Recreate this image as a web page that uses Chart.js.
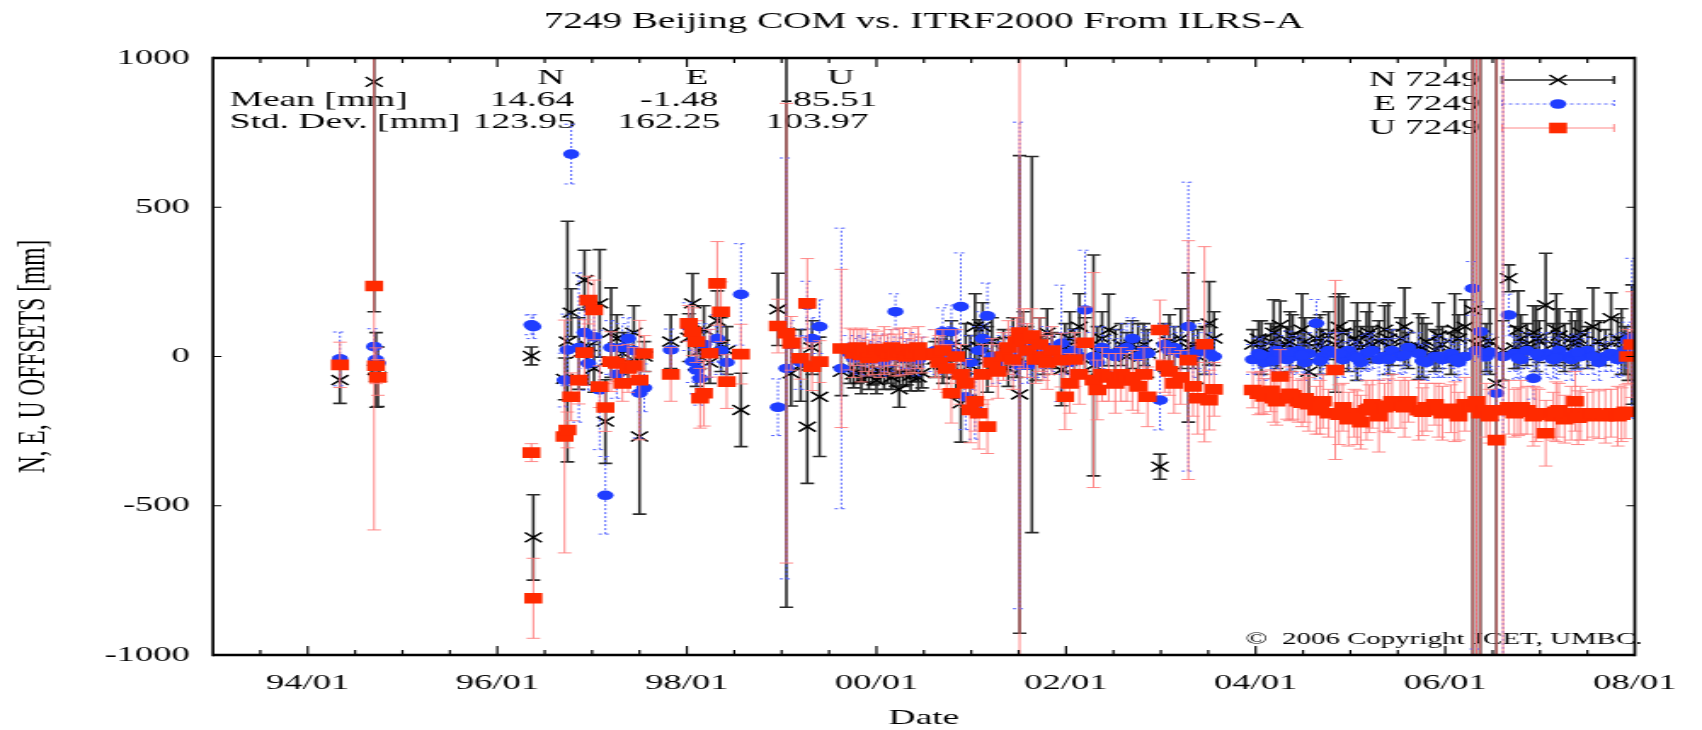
<!DOCTYPE html>
<html>
<head>
<meta charset="utf-8">
<title>7249 Beijing COM vs. ITRF2000</title>
<script src="https://cdn.jsdelivr.net/npm/chart.js@4.4.1/dist/chart.umd.min.js"></script>
<style>
  html, body { margin: 0; padding: 0; background: #fff; overflow: hidden; }
  /* the original plot is a stretched gnuplot image, so draw narrow and stretch */
  #wrap { width: 1000px; height: 730px; transform: scaleX(1.702); transform-origin: 0 0; }
</style>
</head>
<body>
<div id="wrap"><canvas id="offsetChart" width="1000" height="730"></canvas></div>
<script>
// ---- data (decimal years, offsets in mm) ----
const dates = [
  1994.34, 1994.70, 1994.72, 1994.74, 1996.36, 1996.38,
  1996.71, 1996.74, 1996.78, 1996.86, 1996.92, 1996.96, 1997.02, 1997.08, 1997.14, 1997.20,
  1997.26, 1997.32, 1997.38, 1997.44, 1997.50, 1997.55,
  1997.83, 1998.02, 1998.06, 1998.10, 1998.14, 1998.18, 1998.24, 1998.32, 1998.36, 1998.42, 1998.57,
  1998.96, 1999.05, 1999.10, 1999.20, 1999.27, 1999.32, 1999.40, 1999.63,
  1999.72, 1999.76, 1999.80, 1999.84, 1999.88, 1999.92, 1999.96, 2000.00, 2000.04, 2000.08,
  2000.12, 2000.16, 2000.20, 2000.24, 2000.28, 2000.32, 2000.36, 2000.40, 2000.44, 2000.48,
  2000.62, 2000.66, 2000.70, 2000.74, 2000.79, 2000.84, 2000.89, 2000.94, 2000.99,
  2001.04, 2001.08, 2001.12, 2001.17, 2001.22, 2001.28, 2001.34, 2001.39, 2001.44, 2001.48,
  2001.51, 2001.55, 2001.59, 2001.64, 2001.68, 2001.72, 2001.76, 2001.80, 2001.85,
  2001.95, 2001.99, 2002.04, 2002.09, 2002.14, 2002.20, 2002.29, 2002.33, 2002.38, 2002.45,
  2002.52, 2002.58, 2002.64, 2002.70, 2002.76, 2002.82, 2002.86, 2002.99, 2003.04, 2003.09,
  2003.14, 2003.21, 2003.29, 2003.34, 2003.39, 2003.46, 2003.51, 2003.56,
  2003.97, 2004.03, 2004.09, 2004.16, 2004.22, 2004.26, 2004.33, 2004.39, 2004.45, 2004.52,
  2004.56, 2004.64, 2004.71, 2004.77, 2004.84, 2004.92, 2004.98, 2005.04, 2005.11, 2005.17,
  2005.23, 2005.30, 2005.36, 2005.44, 2005.53, 2005.61, 2005.72, 2005.80, 2005.89, 2005.97,
  2006.06, 2006.14, 2006.21, 2006.29, 2006.33, 2006.37, 2006.43, 2006.54, 2006.61, 2006.67,
  2006.73, 2006.80, 2006.86, 2006.93, 2006.99, 2007.06, 2007.14, 2007.20, 2007.26, 2007.33,
  2007.37, 2007.43, 2007.50, 2007.62, 2007.69, 2007.75, 2007.82, 2007.90, 2007.93, 2007.97,
  // extra weekly solutions 2004-2007
  2004.06, 2004.19, 2004.36, 2004.49, 2004.68, 2004.88, 2005.07, 2005.20, 2005.40, 2005.57,
  2005.76, 2005.93, 2006.10, 2006.47, 2006.77, 2006.96, 2007.17, 2007.40, 2007.56, 2007.86
];

const nVal = [
  -79, 920, -45, -68, 2, -606,
  -75, 50, 147, 10, 256, 35, -40, 178, -218, 80,
  60, 10, -20, 80, -268, 0,
  50, 63, 178, -30, 20, 90, -20, 120, 40, 20, -179,
  158, 80, -56, -30, -235, 30, -135, -51,
  -40, -60, -50, -75, -45, -65, -55, -80, -50, -60,
  -45, -70, -55, -110, -60, -50, -65, -45, -70, -55,
  -10, 10, -30, 0, 40, -60, -157, 30, -30,
  100, 33, 100, -10, 50, 0, 20, -40, 50, 0,
  -127, 60, 30, 40, -20, 60, 0, 80, 20,
  -45, 30, 60, 22, 100, 40, -30, 20, 60, 89,
  10, 40, 0, 40, 20, 40, 10, -369, 30, 50,
  20, 60, 30, 40, 0, 20, 111, 60,
  40, 60, 20, 50, 30, 106, 40, 70, 20, 50,
  -51, 60, 30, 70, 40, 80, 20, 60, 30, 70,
  40, 50, 90, 30, 60, 20, 33, 50, 20, 40,
  10, 60, 100, 156, 40, 70, 30, -90, 20, 262,
  30, 60, 40, 80, 50, 172, 40, 70, 30, 60,
  40, 80, 30, 50, 30, 128, 60, 20, 0, 40,
  30, 80, 50, 90, 40, 100, 50, 80, 60, 100,
  30, 70, 90, 50, 90, 60, 90, 60, 100, 50
];
const nErr = [
  78, 770, 125, 100, 30, 143,
  70, 403, 80, 120, 100, 130, 80, 180, 140, 150,
  80, 70, 60, 90, 260, 50,
  90, 80, 100, 70, 60, 80, 70, 100, 90, 80, 123,
  121, 920, 110, 120, 190, 90, 200, 80,
  50, 45, 40, 50, 40, 45, 40, 45, 40, 50,
  45, 40, 45, 60, 40, 45, 50, 40, 45, 50,
  60, 50, 60, 70, 80, 80, 130, 80, 100,
  110, 90, 80, 110, 80, 60, 70, 60, 80, 70,
  800, 90, 70, 630, 60, 70, 60, 80, 60,
  120, 80, 90, 70, 110, 90, 370, 80, 90, 120,
  80, 70, 80, 80, 90, 70, 80, 42, 80, 90,
  80, 100, 250, 80, 90, 80, 140, 90,
  50, 60, 50, 60, 70, 80, 60, 70, 60, 80,
  90, 70, 60, 80, 160, 120, 70, 60, 70, 80,
  60, 70, 80, 60, 70, 60, 110, 60, 70, 60,
  70, 80, 90, 1200, 1200, 1200, 80, 1300, 100, 45,
  70, 80, 70, 90, 70, 174, 70, 90, 80, 90,
  80, 80, 70, 70, 60, 85, 70, 80, 80, 200,
  90, 110, 100, 120, 100, 110, 130, 100, 120, 130,
  100, 110, 120, 110, 130, 110, 120, 100, 130, 110
];

const eVal = [
  -8, 33, -10, -22, 106, 100,
  -79, 22, 678, 30, 80, -23, 66, -112, -465, 30,
  -60, 30, 60, 20, -123, -105,
  22, 100, -17, -45, -73, 40, 10, 60, 20, -20, 208,
  -170, -40, 40, -20, 172, 60, 100, -40,
  10, -5, 20, 0, 15, -10, 25, 5, 10, -15,
  20, 0, 150, 15, -5, 10, 20, 5, -10, 15,
  20, 0, 83, 40, 83, 10, 167, -135, -20,
  -177, 20, 60, 136, 0, -20, 10, 20, -10, 20,
  -30, 40, -30, 10, 0, 20, -10, 30, 10,
  44, 10, -20, 20, 0, 156, 0, -20, 30, 10,
  0, 20, 30, 60, 0, 20, 10, -146, 40, 20,
  30, 10, 100, 0, 20, 30, 10, 0,
  -10, 10, -20, 0, 20, 10, -10, 0, 20, -20,
  10, 111, 0, 20, 10, -10, 20, 0, -20, 10,
  20, -10, 0, 20, 0, 30, 10, -20, 0, -10,
  10, -20, 0, 228, 20, 83, 0, -123, 0, 139,
  10, -10, 20, -73, 0, 10, -10, 20, 0, -10,
  10, 0, 20, -20, 0, 10, -10, 20, 55, 61,
  5, -15, 15, 5, -15, 10, -5, 15, -10, 5,
  -15, 0, -10, 15, -5, 10, -5, 15, 0, 5
];
const eErr = [
  90, 60, 55, 50, 33, 40,
  90, 120, 100, 250, 120, 90, 100, 200, 130, 90,
  80, 80, 70, 60, 150, 80,
  70, 80, 70, 80, 90, 70, 80, 80, 80, 60, 170,
  95, 705, 80, 90, 80, 70, 90, 470,
  60, 50, 50, 60, 50, 55, 50, 45, 60, 50,
  55, 50, 60, 50, 55, 50, 60, 50, 55, 50,
  70, 60, 80, 60, 90, 70, 180, 110, 90,
  100, 80, 90, 110, 60, 70, 60, 60, 70, 80,
  815, 70, 60, 80, 60, 60, 60, 70, 60,
  195, 70, 80, 70, 60, 200, 80, 60, 70, 60,
  60, 70, 80, 70, 60, 80, 70, 100, 70, 80,
  70, 70, 484, 70, 60, 80, 70, 60,
  50, 50, 60, 50, 60, 60, 50, 60, 50, 60,
  70, 80, 60, 60, 70, 60, 60, 50, 60, 60,
  60, 70, 60, 70, 60, 60, 70, 60, 60, 60,
  50, 60, 60, 90, 1000, 100, 60, 90, 1100, 70,
  60, 60, 60, 70, 60, 70, 60, 60, 60, 70,
  60, 60, 60, 60, 50, 60, 60, 60, 60, 268,
  60, 60, 70, 60, 60, 70, 60, 60, 70, 60,
  60, 70, 60, 60, 70, 60, 70, 60, 60, 70
];

const uVal = [
  -28, 236, -31, -70, -322, -810,
  -268, -246, -135, -79, 13, 189, 156, -101, -171, -17,
  -23, -90, -40, -30, -79, 10,
  -60, 111, 83, 50, -140, -123, 11, 245, 150, -84, 8,
  102, 78, 44, -6, 178, -34, -17, 27,
  25, 10, 30, 5, 20, -5, 15, 25, 0, 20,
  10, 30, 5, 15, 25, 0, 20, 10, 30, 5,
  10, -20, 20, -40, -123, 0, -60, -90, -179,
  -150, -190, -60, -235, -20, -50, 0, 30, -10, 50,
  80, 60, 20, 70, -10, 40, 0, -20, 20,
  -12, -135, -90, -10, -60, 46, -79, -112, -60, -70,
  -90, -60, -70, -80, -100, -60, -135, 89, -30, -50,
  -90, -70, -12, -100, -140, 41, -146, -110,
  -112, -125, -134, -115, -150, -67, -140, -130, -150, -140,
  -160, -180, -150, -190, -45, -170, -210, -190, -220, -180,
  -160, -200, -170, -150, -160, -150, -180, -170, -160, -190,
  -175, -200, -160, -170, -150, -190, -180, -280, -180, -170,
  -190, -170, -180, -200, -190, -257, -200, -180, -210, -190,
  -150, -190, -200, -195, -200, -190, -200, -185, 0, 40,
  -120, -140, -125, -155, -170, -195, -205, -175, -165, -170,
  -185, -180, -185, -200, -185, -195, -185, -205, -190, -195
];
const uErr = [
  76, 817, 60, 60, 30, 134,
  390, 60, 80, 80, 110, 80, 100, 70, 80, 100,
  60, 60, 80, 60, 200, 60,
  90, 60, 80, 70, 100, 110, 80, 140, 100, 90, 100,
  90, 770, 90, 70, 150, 80, 70, 265,
  70, 80, 60, 90, 70, 60, 75, 60, 70, 80,
  65, 60, 70, 80, 70, 60, 75, 65, 70, 60,
  80, 90, 70, 80, 100, 90, 100, 80, 110,
  100, 120, 100, 90, 80, 90, 80, 90, 100, 80,
  1500, 100, 90, 90, 80, 90, 80, 90, 80,
  90, 110, 100, 90, 100, 120, 360, 100, 90, 80,
  100, 90, 80, 100, 90, 90, 100, 100, 90, 80,
  100, 90, 400, 100, 120, 327, 100, 90,
  60, 70, 60, 70, 80, 90, 70, 80, 70, 80,
  90, 80, 90, 80, 300, 80, 90, 80, 90, 100,
  80, 120, 80, 90, 80, 70, 100, 80, 70, 90,
  80, 80, 90, 1300, 1300, 1300, 90, 1400, 1300, 90,
  80, 90, 80, 100, 80, 110, 80, 90, 80, 90,
  100, 90, 80, 80, 90, 80, 100, 90, 90, 177,
  70, 80, 90, 80, 90, 100, 90, 80, 90, 100,
  80, 90, 100, 90, 80, 90, 100, 90, 80, 90
];

const xTickYears = [1994, 1996, 1998, 2000, 2002, 2004, 2006, 2008];
const xTickLabels = ['94/01', '96/01', '98/01', '00/01', '02/01', '04/01', '06/01', '08/01'];
const yTickValues = [-1000, -500, 0, 500, 1000];

const seriesNames = ['N 7249', 'E 7249', 'U 7249'];
const statHeads = ['N', 'E', 'U'];
const statMean = ['14.64', '-1.48', '-85.51'];
const statStd = ['123.95', '162.25', '103.97'];

const FONT = "'Liberation Serif', 'Times New Roman', serif";

function points(vals, errs) {
    if (vals.length !== dates.length || errs.length !== dates.length) {
        console.error('length mismatch', vals.length, errs.length, dates.length);
    }
    return dates.map((d, i) => ({x: d, y: vals[i], err: errs[i]}));
}

// vertical error bars with caps, drawn right before each dataset's markers
const errorBars = {
    id: 'errorBars',
    beforeDatasetDraw(chart, args) {
        const ds = chart.data.datasets[args.index];
        const {ctx, chartArea: a, scales: {x, y}} = chart;
        const cap = 4;
        ctx.save();
        ctx.beginPath();
        ctx.rect(a.left, a.top, a.right - a.left, a.bottom - a.top);
        ctx.clip();
        ctx.strokeStyle = ds.barColor;
        ctx.lineWidth = ds.barWidth;
        ctx.setLineDash(ds.barDash);
        ds.data.forEach(p => {
            const px = x.getPixelForValue(p.x);
            const lo = y.getPixelForValue(p.y - p.err);
            const hi = y.getPixelForValue(p.y + p.err);
            ctx.beginPath();
            ctx.moveTo(px, lo); ctx.lineTo(px, hi);
            ctx.moveTo(px - cap, lo); ctx.lineTo(px + cap, lo);
            ctx.moveTo(px - cap, hi); ctx.lineTo(px + cap, hi);
            ctx.stroke();
        });
        ctx.restore();
    }
};

// statistics block, key and copyright (gnuplot draws these under the data)
const annotations = {
    id: 'annotations',
    beforeDatasetsDraw(chart) {
        const ctx = chart.ctx;
        const datasets = chart.data.datasets;
        ctx.save();
        ctx.fillStyle = '#000';
        ctx.textBaseline = 'middle';
        ctx.font = `22px ${FONT}`;

        const headX = [323.7, 409.5, 494];
        const meanX = [312.6, 399, 487];
        const stdX = [307.9, 393, 480];
        ctx.textAlign = 'center';
        statHeads.forEach((t, i) => ctx.fillText(t, headX[i], 78));
        statMean.forEach((t, i) => ctx.fillText(t, meanX[i], 100));
        statStd.forEach((t, i) => ctx.fillText(t, stdX[i], 122));
        ctx.textAlign = 'left';
        ctx.fillText('Mean [mm]', 135, 100);
        ctx.fillText('Std. Dev. [mm]', 135, 122);

        // key
        const rows = [80, 104, 128];
        const x0 = 882.5, x1 = 948.3, xm = 915.4;
        seriesNames.forEach((name, i) => {
            const ds = datasets[i];
            const yy = rows[i];
            ctx.textAlign = 'right';
            ctx.fillStyle = '#000';
            ctx.fillText(name, 869.6, yy);
            ctx.strokeStyle = ds.barColor;
            ctx.lineWidth = ds.barWidth;
            ctx.setLineDash(ds.barDash);
            ctx.beginPath();
            ctx.moveTo(x0, yy); ctx.lineTo(x1, yy);
            ctx.moveTo(x0, yy - 4); ctx.lineTo(x0, yy + 4);
            ctx.moveTo(x1, yy - 4); ctx.lineTo(x1, yy + 4);
            ctx.stroke();
            ctx.setLineDash([]);
            ctx.strokeStyle = ds.pointBorderColor;
            ctx.fillStyle = ds.pointBackgroundColor;
            ctx.lineWidth = ds.pointBorderWidth;
            Chart.helpers.drawPoint(ctx, {
                pointStyle: ds.pointStyle, radius: ds.pointRadius,
                borderWidth: ds.pointBorderWidth, rotation: 0
            }, xm, yy);
        });

        ctx.fillStyle = '#000';
        ctx.textAlign = 'right';
        ctx.font = `17px ${FONT}`;
        ctx.fillText('\u00A9  2006 Copyright JCET, UMBC.', 965, 640);
        ctx.restore();
    }
};

// plot frame and inward tick marks (mirrored on all four sides)
const frame = {
    id: 'frame',
    afterDatasetsDraw(chart) {
        const {ctx, chartArea: a, scales: {x, y}} = chart;
        ctx.save();
        ctx.strokeStyle = '#000';
        ctx.lineWidth = 1.2;
        ctx.beginPath();
        for (let v = 1993.5; v < 2008; v += 0.5) {
            const px = x.getPixelForValue(v);
            const len = xTickYears.includes(v) ? 9 : 5;
            ctx.moveTo(px, a.bottom); ctx.lineTo(px, a.bottom - len);
            ctx.moveTo(px, a.top); ctx.lineTo(px, a.top + len);
        }
        yTickValues.forEach(v => {
            const py = y.getPixelForValue(v);
            ctx.moveTo(a.left, py); ctx.lineTo(a.left + 5, py);
            ctx.moveTo(a.right, py); ctx.lineTo(a.right - 5, py);
        });
        ctx.stroke();
        ctx.lineWidth = 2.6;
        ctx.beginPath();
        ctx.moveTo(a.left, a.top); ctx.lineTo(a.right, a.top);
        ctx.moveTo(a.left, a.bottom); ctx.lineTo(a.right, a.bottom);
        ctx.stroke();
        ctx.lineWidth = 1.7;
        ctx.beginPath();
        ctx.moveTo(a.left, a.top - 1.3); ctx.lineTo(a.left, a.bottom + 1.3);
        ctx.moveTo(a.right, a.top - 1.3); ctx.lineTo(a.right, a.bottom + 1.3);
        ctx.stroke();
        ctx.restore();
    }
};

function drawOffsetChart() {
    const canvas = document.getElementById('offsetChart');
    if (!canvas) {
        console.error("Canvas element 'offsetChart' not found.");
        return;
    }
    const ctx = canvas.getContext('2d');

    Chart.defaults.font.family = FONT;
    Chart.defaults.color = '#000';

    const data = {
        datasets: [{
            label: seriesNames[0],
            data: points(nVal, nErr),
            pointStyle: 'crossRot',
            pointRadius: 7,
            pointBorderWidth: 1.5,
            pointBorderColor: '#000',
            pointBackgroundColor: '#000',
            order: 3,
            barColor: '#2a2a2a', barWidth: 1.6, barDash: []
        }, {
            label: seriesNames[1],
            data: points(eVal, eErr),
            pointStyle: 'circle',
            pointRadius: 4.8,
            pointBorderWidth: 0,
            pointBorderColor: '#1f3dff',
            pointBackgroundColor: '#1f3dff',
            order: 2,
            barColor: '#4d5cff', barWidth: 1, barDash: [2, 2]
        }, {
            label: seriesNames[2],
            data: points(uVal, uErr),
            pointStyle: 'rect',
            pointRadius: 7.5,
            pointBorderWidth: 0,
            pointBorderColor: '#ff2a00',
            pointBackgroundColor: '#ff2a00',
            order: 1,
            barColor: '#ff7a7a', barWidth: 0.9, barDash: []
        }]
    };

    const config = {
        type: 'scatter',
        data: data,
        plugins: [errorBars, annotations, frame],
        options: {
            responsive: false,
            animation: false,
            events: [],
            layout: {padding: {left: 0, right: 25.9, top: 0, bottom: 0}},
            plugins: {
                legend: {display: false},
                tooltip: {enabled: false},
                title: {
                    display: true,
                    fullSize: false,
                    text: '7249 Beijing COM vs. ITRF2000 From ILRS-A',
                    font: {size: 23, weight: 'normal'},
                    color: '#000',
                    padding: {top: 8, bottom: 22.4}
                }
            },
            scales: {
                x: {
                    type: 'linear',
                    min: 1993, max: 2008,
                    afterBuildTicks: s => { s.ticks = xTickYears.map(v => ({value: v})); },
                    afterFit: s => { s.height = 75; },
                    grid: {display: false, drawTicks: false},
                    border: {display: false},
                    ticks: {
                        autoSkip: false, maxRotation: 0, padding: 15,
                        font: {size: 21.5},
                        callback: v => xTickLabels[xTickYears.indexOf(v)]
                    },
                    title: {
                        display: true, text: 'Date',
                        font: {size: 22, lineHeight: 1},
                        padding: {top: 0, bottom: 1}
                    }
                },
                y: {
                    min: -1000, max: 1000,
                    afterBuildTicks: s => { s.ticks = yTickValues.map(v => ({value: v})); },
                    afterFit: s => { s.width = 125.1; },
                    grid: {display: false, drawTicks: false},
                    border: {display: false},
                    ticks: {padding: 13.5, font: {size: 21.5}, callback: v => String(v)},
                    title: {
                        display: true, text: 'N, E, U OFFSETS [mm]',
                        font: {size: 23.5},
                        padding: {top: 5.3, bottom: 0}
                    }
                }
            }
        }
    };

    new Chart(ctx, config);
}

drawOffsetChart();
</script>
</body>
</html>
